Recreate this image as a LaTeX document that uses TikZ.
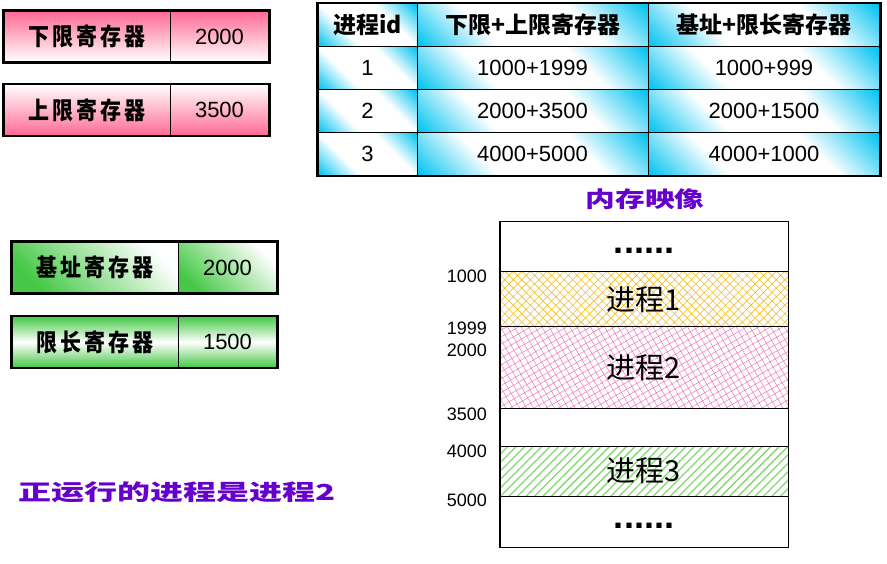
\documentclass[tikz,border=0pt]{standalone}
\usepackage{fontspec}
\setmainfont{Liberation Sans}
\newfontfamily\cjk{Noto Sans CJK SC}
\newfontfamily\cjkreg{Noto Sans CJK SC}[LetterSpace=14]
\usetikzlibrary{patterns.meta}
\definecolor{pinkc}{RGB}{255,105,150}
\definecolor{greenc}{RGB}{70,200,70}
\definecolor{cyanc}{RGB}{0,195,240}
\definecolor{purp}{RGB}{102,0,204}
\definecolor{yelc}{RGB}{240,190,40}
\definecolor{pinkp}{RGB}{240,120,180}
\definecolor{grnp}{RGB}{130,215,110}
\pgfdeclareverticalshading{cellshade}{100bp}{color(0bp)=(cyanc); color(15bp)=(cyanc); color(36bp)=(white); color(64bp)=(white); color(85bp)=(cyanc); color(100bp)=(cyanc)}
\tikzset{
  reglab/.style={inner sep=0pt, minimum width=166pt, minimum height=51pt, draw=black, line width=0.8pt,
    font=\cjkreg\bfseries\fontsize{21}{21}\selectfont},
  regval/.style={inner sep=0pt, minimum width=99pt, minimum height=51pt, draw=black, line width=0.8pt,
    font=\fontsize{22}{22}\selectfont},
  regframe/.style={line width=2.6pt, draw=black},
  cell/.style={inner sep=0pt, minimum height=43pt, draw=black, line width=0.8pt,
    shading=cellshade, shading angle=-45},
  hcell/.style={cell, font=\cjk\bfseries\fontsize{23}{23}\selectfont},
  ncell/.style={cell, font=\fontsize{22}{22}\selectfont},
  memreg/.style={inner sep=0pt, minimum width=288pt, draw=black, line width=1pt,
    font=\cjk\fontsize{29}{29}\selectfont},
  addr/.style={anchor=east, inner sep=0pt, font=\fontsize{18}{18}\selectfont},
  dots/.style={inner sep=0pt, font=\bfseries\fontsize{36}{36}\selectfont},
  purptext/.style={inner sep=0pt, text=purp, font=\cjk\bfseries\fontsize{22}{22}\selectfont},
}
\begin{document}
\begin{tikzpicture}[x=1pt,y=-1pt]
\useasboundingbox (0,0) rectangle (887,564);
% pink registers
\node[reglab, top color=pinkc, bottom color=white] (lo) at (87,36.5) {\scalebox{1}[1.15]{下限寄存器}};
\node[regval, top color=pinkc, bottom color=white] (lov) at (219.5,36.5) {2000};
\draw[regframe] (lo.north west) rectangle (lov.south east);
\node[reglab, top color=white, bottom color=pinkc] (up) at (87,110) {\scalebox{1}[1.15]{上限寄存器}};
\node[regval, top color=white, bottom color=pinkc] (upv) at (219.5,110) {3500};
\draw[regframe] (up.north west) rectangle (upv.south east);
% green registers
\node[reglab, left color=greenc, right color=white, shading angle=135, shading=axis] (ba) at (95,267.5) {\scalebox{1}[1.15]{基址寄存器}};
\node[regval, left color=greenc, right color=white, shading angle=135, shading=axis] (bav) at (227.5,267.5) {2000};
\draw[regframe] (ba.north west) rectangle (bav.south east);
\node[reglab, top color=greenc, bottom color=greenc, middle color=white] (li) at (95,342) {\scalebox{1}[1.15]{限长寄存器}};
\node[regval, top color=greenc, bottom color=greenc, middle color=white] (liv) at (227.5,342) {1500};
\draw[regframe] (li.north west) rectangle (liv.south east);
% table
\node[hcell, minimum width=99pt] (h1) at (367.5,25) {进程id};
\node[hcell, minimum width=231pt] (h2) at (532.5,25) {下限+上限寄存器};
\node[hcell, minimum width=232pt] (h3) at (764,25) {基址+限长寄存器};
\node[ncell, minimum width=99pt] (a1) at (367.5,68) {1};
\node[ncell, minimum width=231pt] (a2) at (532.5,68) {1000+1999};
\node[ncell, minimum width=232pt] (a3) at (764,68) {1000+999};
\node[ncell, minimum width=99pt] (b1) at (367.5,111) {2};
\node[ncell, minimum width=231pt] (b2) at (532.5,111) {2000+3500};
\node[ncell, minimum width=232pt] (b3) at (764,111) {2000+1500};
\node[ncell, minimum width=99pt] (c1) at (367.5,154) {3};
\node[ncell, minimum width=231pt] (c2) at (532.5,154) {4000+5000};
\node[ncell, minimum width=232pt] (c3) at (764,154) {4000+1000};
\draw[line width=2.4pt] (h1.north west) rectangle (c3.south east);
% memory image
\node[purptext] (title) at (645,199) {\scalebox{1.35}[1]{内存映像}};
\node[memreg, minimum height=50pt] (m0) at (644,247) {};
\node[dots] (d0) at (m0.center) [yshift=-4pt] {......};
\node[memreg, minimum height=55pt, pattern={Hatch[angle=45,distance=6pt,line width=0.6pt]}, pattern color=yelc] (m1) at (644,299.5) {进程1};
\node[memreg, minimum height=81pt, pattern={Hatch[angle=30,distance=6pt,line width=0.5pt]}, pattern color=pinkp] (m2) at (644,367.5) {进程2};
\node[memreg, minimum height=38pt] (m3) at (644,427) {};
\node[memreg, minimum height=50pt, pattern={Lines[angle=45,distance=6pt,line width=1.3pt]}, pattern color=grnp] (m4) at (644,471) {进程3};
\node[memreg, minimum height=51pt] (m5) at (644,521.5) {};
\node[dots] (d5) at (m5.center) [yshift=-4pt] {......};
\draw[line width=1.6pt] (m0.north west) rectangle (m5.south east);
% addresses
\node[addr] (ad1) at (487,276) {1000};
\node[addr] (ad2) at (487,328) {1999};
\node[addr] (ad3) at (487,350) {2000};
\node[addr] (ad4) at (487,414) {3500};
\node[addr] (ad5) at (487,451) {4000};
\node[addr] (ad6) at (487,500) {5000};
% note
\node[purptext, anchor=west] (note) at (18,492) {\scalebox{1.5}[1]{正运行的进程是进程2}};
\end{tikzpicture}
\end{document}
